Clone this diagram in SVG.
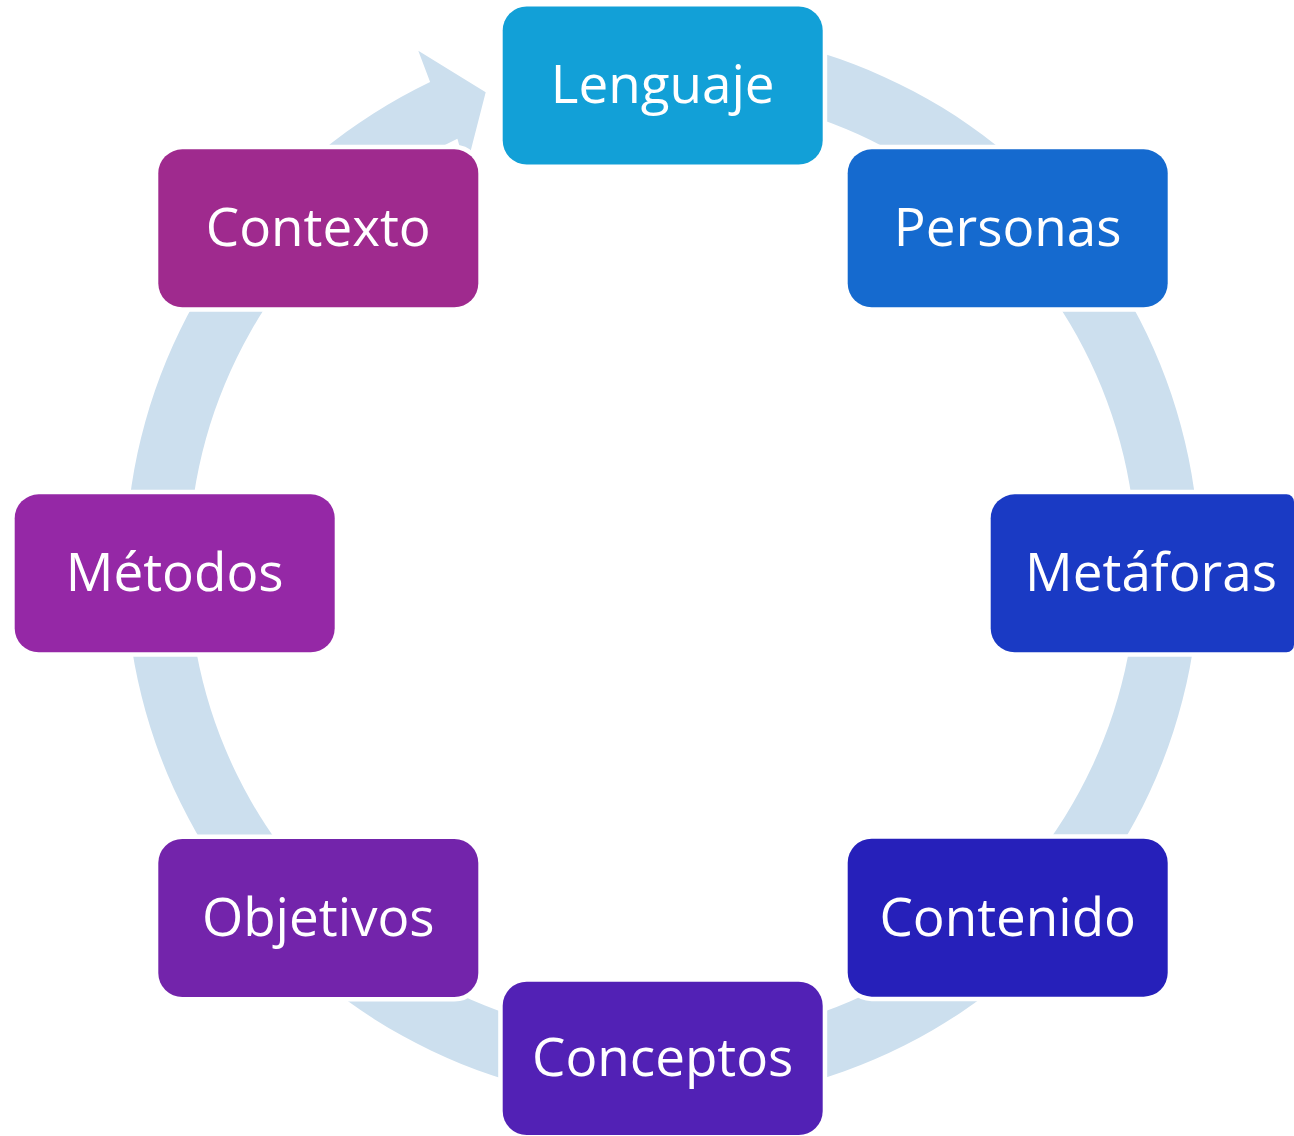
<svg xmlns="http://www.w3.org/2000/svg" width="1294" height="1136" viewBox="0 0 1294 1136">
  <style>
    .node { stroke: #FFFFFF; stroke-width: 9; paint-order: stroke; }
    .label { font-family: "Open Sans", "Noto Sans", "Liberation Sans", sans-serif; font-size: 53px; fill: #FFFFFF; text-anchor: middle; }
    .ring { fill: #CCDFEE; stroke: none; }
  </style>
  <rect x="0" y="0" width="1294" height="1136" fill="#FFFFFF"/>
  <g id="connectors">
    <path class="ring" d="M 662.5 29 A 537 537 0 1 1 430.1 81.9 L 418.3 50.7 L 485.7 92.3 L 466 169 L 457.4 138.7 A 474 474 0 1 0 662.5 92 Z"/>
  </g>
  <g id="node-lenguaje">
    <rect class="node" x="502.7" y="6.5" width="320" height="158" rx="24" fill="#12A0D7"/>
    <text class="label" x="662.7" y="103">Lenguaje</text>
  </g>
  <g id="node-personas">
    <rect class="node" x="847.7" y="149.3" width="320" height="158" rx="24" fill="#156ACF"/>
    <text class="label" x="1007.7" y="246">Personas</text>
  </g>
  <g id="node-metaforas">
    <path class="node" d="M 1014.7 494.3 H 1286.5 A 7.5 7.5 0 0 1 1294 501.8 V 644.8 A 7.5 7.5 0 0 1 1286.5 652.3 H 1014.7 A 24 24 0 0 1 990.7 628.3 V 518.3 A 24 24 0 0 1 1014.7 494.3 Z" fill="#1A3AC4"/>
    <text class="label" x="1151" y="591">Metáforas</text>
  </g>
  <g id="node-contenido">
    <rect class="node" x="847.7" y="838.7" width="320" height="158" rx="24" fill="#2620BA"/>
    <text class="label" x="1007.7" y="935.5">Contenido</text>
  </g>
  <g id="node-conceptos">
    <rect class="node" x="502.7" y="981.7" width="320" height="153.3" rx="24" fill="#5221B5"/>
    <text class="label" x="662.7" y="1075.5">Conceptos</text>
  </g>
  <g id="node-objetivos">
    <rect class="node" x="158.3" y="839" width="320" height="158" rx="24" fill="#7324AB"/>
    <text class="label" x="318.3" y="935.5">Objetivos</text>
  </g>
  <g id="node-metodos">
    <rect class="node" x="14.7" y="494.3" width="320" height="158" rx="24" fill="#9528A6"/>
    <text class="label" x="174.7" y="591">Métodos</text>
  </g>
  <g id="node-contexto">
    <rect class="node" x="158.3" y="149.3" width="320" height="158" rx="24" fill="#9F2A8E"/>
    <text class="label" x="318.3" y="246">Contexto</text>
  </g>
</svg>
